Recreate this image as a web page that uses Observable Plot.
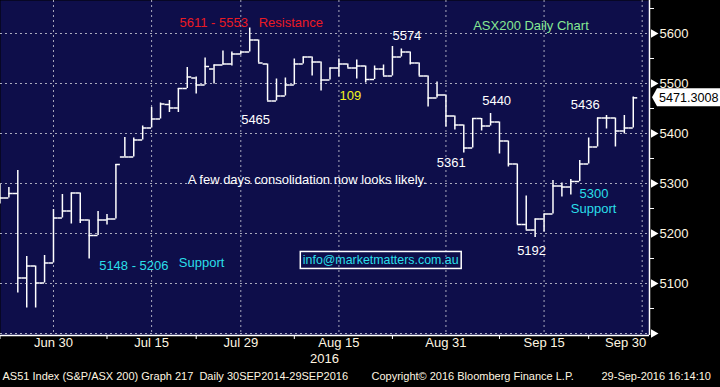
<!DOCTYPE html>
<html><head><meta charset="utf-8">
<script src="https://cdn.jsdelivr.net/npm/d3@7"></script>
<script src="https://cdn.jsdelivr.net/npm/@observablehq/plot@0.6"></script>
<style>
html,body{margin:0;padding:0;background:#000;}
#chart{width:720px;height:387px;overflow:hidden;}
</style></head><body><div id="chart"></div>
<script>
// trading days (last one, Sep 30, has no bar yet but carries a tick)
const days = [
"2016-06-22","2016-06-23","2016-06-24","2016-06-27","2016-06-28","2016-06-29","2016-06-30",
"2016-07-01","2016-07-04","2016-07-05","2016-07-06","2016-07-07","2016-07-08",
"2016-07-11","2016-07-12","2016-07-13","2016-07-14","2016-07-15",
"2016-07-18","2016-07-19","2016-07-20","2016-07-21","2016-07-22",
"2016-07-25","2016-07-26","2016-07-27","2016-07-28","2016-07-29",
"2016-08-01","2016-08-02","2016-08-03","2016-08-04","2016-08-05",
"2016-08-08","2016-08-09","2016-08-10","2016-08-11","2016-08-12",
"2016-08-15","2016-08-16","2016-08-17","2016-08-18","2016-08-19",
"2016-08-22","2016-08-23","2016-08-24","2016-08-25","2016-08-26",
"2016-08-29","2016-08-30","2016-08-31","2016-09-01","2016-09-02",
"2016-09-05","2016-09-06","2016-09-07","2016-09-08","2016-09-09",
"2016-09-12","2016-09-13","2016-09-14","2016-09-15","2016-09-16",
"2016-09-19","2016-09-20","2016-09-21","2016-09-22","2016-09-23",
"2016-09-26","2016-09-27","2016-09-28","2016-09-29","2016-09-30"];

const open = [5285,5271,5280,5111,5135,5101,5141, 5231,5245,5281,5227,5196,5227, 5229,5353,5353,5387,5411, 5429,5458,5451,5490,5511, 5497,5529,5537,5539,5559, 5563,5587,5539,5465,5475, 5497,5539,5553,5543,5507, 5531,5539,5531,5535,5508, 5529,5515,5553,5563,5541, 5515,5471,5477,5435,5417, 5371,5430,5415,5423,5385, 5339,5218,5207,5229,5239, 5295,5293,5304,5339,5373, 5431,5431,5405,5411];
const high = [5298,5292,5326,5154,5135,5156,5248, 5278,5281,5281,5227,5244,5238, 5338,5392,5391,5415,5452, 5461,5466,5490,5532,5513, 5551,5537,5565,5563,5563, 5611,5587,5539,5509,5511, 5549,5553,5553,5543,5531, 5549,5539,5547,5535,5535, 5537,5574,5569,5563,5541, 5515,5503,5477,5435,5417, 5430,5430,5440,5423,5385, 5339,5275,5229,5239,5306, 5301,5308,5346,5391,5431, 5436,5431,5436,5473];
const low = [5259,5271,5081,5051,5051,5101,5141, 5231,5219,5220,5149,5196,5217, 5229,5353,5353,5387,5411, 5429,5442,5442,5490,5479, 5497,5499,5537,5535,5557, 5563,5541,5465,5465,5475, 5497,5539,5515,5485,5507, 5513,5531,5509,5501,5508, 5515,5515,5553,5537,5515, 5453,5471,5413,5407,5361, 5371,5405,5415,5359,5333, 5218,5207,5192,5203,5239, 5273,5277,5304,5339,5373, 5409,5373,5399,5411];
const close = [5271,5280,5111,5135,5101,5141,5231, 5245,5281,5227,5196,5227,5229, 5338,5353,5387,5411,5429, 5459,5451,5490,5513,5497, 5534,5537,5539,5559,5563, 5587,5541,5465,5475,5497, 5539,5553,5543,5507,5531, 5539,5531,5535,5508,5529, 5515,5553,5563,5541,5515, 5471,5477,5435,5417,5371, 5430,5415,5423,5385,5339, 5218,5207,5229,5239,5295, 5293,5304,5339,5373,5431, 5431,5405,5411,5471.3008];

const tickDays   = ["2016-06-30","2016-07-15","2016-07-29","2016-08-15","2016-08-31","2016-09-15","2016-09-30"];
const tickLabels = ["Jun 30","Jul 15","Jul 29","Aug 15","Aug 31","Sep 15","Sep 30"];
const minorTickDays = ["2016-06-22","2016-07-08","2016-07-22","2016-08-08","2016-08-23","2016-09-08","2016-09-22"];
const yearLabel = "2016";
const yearLabelDay = "2016-08-15";
const priceTicks = [5000,5100,5200,5300,5400,5500,5600];
const minorPriceTicks = [5050,5150,5250,5350,5450,5550,5650];
const lastPrice = 5471.3008;

const annoText  = ["5611 - 5553","Resistance","ASX200 Daily Chart","5574","5465","109","5440","5436","5361",
                   "A few days consolidation now looks likely.","5148 - 5206","Support","info@marketmatters.com.au","5192","5300","Support"];
const annoIndex = [20.12,29.0,53.05,44.0,27.04,38.06,54.06,64.0,48.97,21.05,11.12,20.05,33.95,57.98,64.97,64.0];
const annoPrice = [5622,5622,5616,5596,5428,5476,5465,5457,5341,5307,5135,5141,5147,5166,5279,5249];
const annoKind  = ["red","red","green","white","white","yellow","white","white","white","white","cyan","cyan","email","white","cyan","cyan"];

const footerTexts = ["AS51 Index (S&P/ASX 200) Graph 217  Daily 30SEP2014-29SEP2016",
                     "Copyright\u00A9 2016 Bloomberg Finance L.P.",
                     "29-Sep-2016 16:14:10"];

// ---- build tables ----
const idx = d => days.indexOf(d);
const bars = close.map((c, i) => ({i, day: days[i], open: open[i], high: high[i], low: low[i], close: c}));
const colors = {red: "#ea1a24", green: "#86e894", white: "#ffffff", yellow: "#f2f21e", cyan: "#2adfe9", email: "#2adfe9"};
const annotations = annoText.map((t, k) => ({text: t, x: annoIndex[k], y: annoPrice[k], color: colors[annoKind[k]], kind: annoKind[k]}));
const xTicks = tickDays.map((d, k) => ({x: idx(d), label: tickLabels[k]}));
const minorIdx = minorTickDays.map(idx);

const navy = "#0e0e4a";
const cream = "#fff6e0";
const gridColor = "#a9a9bd";
const font = "'Liberation Sans', Arial, sans-serif";

const xDomain = [0.06, 72.82];
const yDomain = [4996, 5666];

const plot = Plot.plot({
  width: 720, height: 387,
  marginLeft: 0, marginRight: 71, marginTop: 0, marginBottom: 52,
  style: {background: "#000", color: "#fff", fontFamily: font, fontSize: "13px", overflow: "visible"},
  x: {type: "linear", domain: xDomain},
  y: {domain: yDomain},
  marks: [
    Plot.frame({fill: navy, stroke: "none"}),
    Plot.gridY(priceTicks, {stroke: gridColor, strokeOpacity: 1, strokeDasharray: "2,3"}),
    Plot.gridX(xTicks.map(t => t.x), {stroke: gridColor, strokeOpacity: 1, strokeDasharray: "2,3"}),
    // OHLC bars
    Plot.ruleX(bars, {x: "i", y1: "low", y2: "high", stroke: "#fff", strokeWidth: 1.5}),
    Plot.ruleY(bars, {x1: d => d.i - 0.5, x2: "i", y: "open", stroke: "#fff", strokeWidth: 1.5}),
    Plot.ruleY(bars, {x1: "i", x2: d => d.i + 0.5, y: "close", stroke: "#fff", strokeWidth: 1.5}),
    // axis lines
    Plot.ruleY([yDomain[0]], {stroke: "#fff", strokeWidth: 1.5}),
    Plot.ruleX([xDomain[1]], {stroke: "#fff", strokeWidth: 1.5}),
    // x axis labels (last one kept inside the frame, as in the reference)
    Plot.text(xTicks.slice(0, -1), {x: "x", text: "label", frameAnchor: "bottom", dy: 11, textAnchor: "middle", fill: cream, fontSize: 13}),
    Plot.text(xTicks.slice(-1), {x: "x", text: "label", frameAnchor: "bottom", dy: 11, dx: 4, textAnchor: "end", fill: cream, fontSize: 13}),
    Plot.axisX(minorIdx, {tickSize: 4, tickFormat: () => "", stroke: "#fff"}),
    Plot.text([yearLabel], {x: [idx(yearLabelDay)], frameAnchor: "bottom", dy: 27, textAnchor: "end", fill: cream, fontSize: 13}),
    // y axis (right)
    Plot.axisY(priceTicks.filter(v => v > yDomain[0] + 10), {anchor: "right", tickSize: 0, tickPadding: 10, tickFormat: d3.format("d"), fill: cream, fontSize: 13}),
    Plot.axisY(minorPriceTicks, {anchor: "right", tickSize: 4, tickFormat: () => "", stroke: "#fff"}),
    Plot.dot(priceTicks, {y: d => d, frameAnchor: "right", symbol: "triangle", rotate: 90, r: 3.2, fill: "#fff", stroke: "none", dx: 4}),
    // annotations
    Plot.text(annotations.filter(a => a.kind !== "email"), {x: "x", y: "y", text: "text", fill: "color", textAnchor: "start", fontSize: 13}),
    Plot.text(annotations.filter(a => a.kind === "email"), {x: "x", y: "y", text: "text", fill: "color", textAnchor: "start", fontSize: 12.4}),
    // footer
    Plot.text([footerTexts[0]], {frameAnchor: "bottom-left", dx: 2, dy: 44, textAnchor: "start", fill: cream, fontSize: 11}),
    Plot.text([footerTexts[1]], {frameAnchor: "bottom-left", dx: 371, dy: 44, textAnchor: "start", fill: cream, fontSize: 11}),
    Plot.text([footerTexts[2]], {frameAnchor: "bottom-left", dx: 601, dy: 44, textAnchor: "start", fill: cream, fontSize: 11})
  ]
});
document.getElementById("chart").appendChild(plot);

// last price flag on the right axis, positioned with Plot's y scale
const ys = plot.scale("y");
const xs = plot.scale("x");
const yp = ys.apply(lastPrice);
const xr = Math.max(...xs.range);
const g = d3.select(plot).append("g").attr("text-anchor", "start");
g.append("path")
  .attr("d", `M${xr + 3},${yp} L${xr + 8},${yp - 9} L720,${yp - 9} L720,${yp + 9} L${xr + 8},${yp + 9} Z`)
  .attr("fill", "#fff");
g.append("text").attr("x", xr + 10).attr("y", yp).attr("dy", "0.36em").attr("text-anchor", "start")
  .attr("fill", "#000").style("font-family", font).style("font-size", "12.6px")
  .text(d3.format(".4f")(lastPrice));

// white box round the e-mail address
const sr = plot.getBoundingClientRect();
d3.select(plot).selectAll("text").filter(function () { return this.textContent === "info@marketmatters.com.au"; })
  .each(function () {
    const b = this.getBoundingClientRect();
    d3.select(plot).append("rect")
      .attr("x", b.left - sr.left - 2.5).attr("y", b.top - sr.top - 1.5)
      .attr("width", b.width + 5).attr("height", b.height + 3)
      .attr("fill", "none").attr("stroke", "#fff").attr("stroke-width", 1.5);
  });
</script></body></html>
